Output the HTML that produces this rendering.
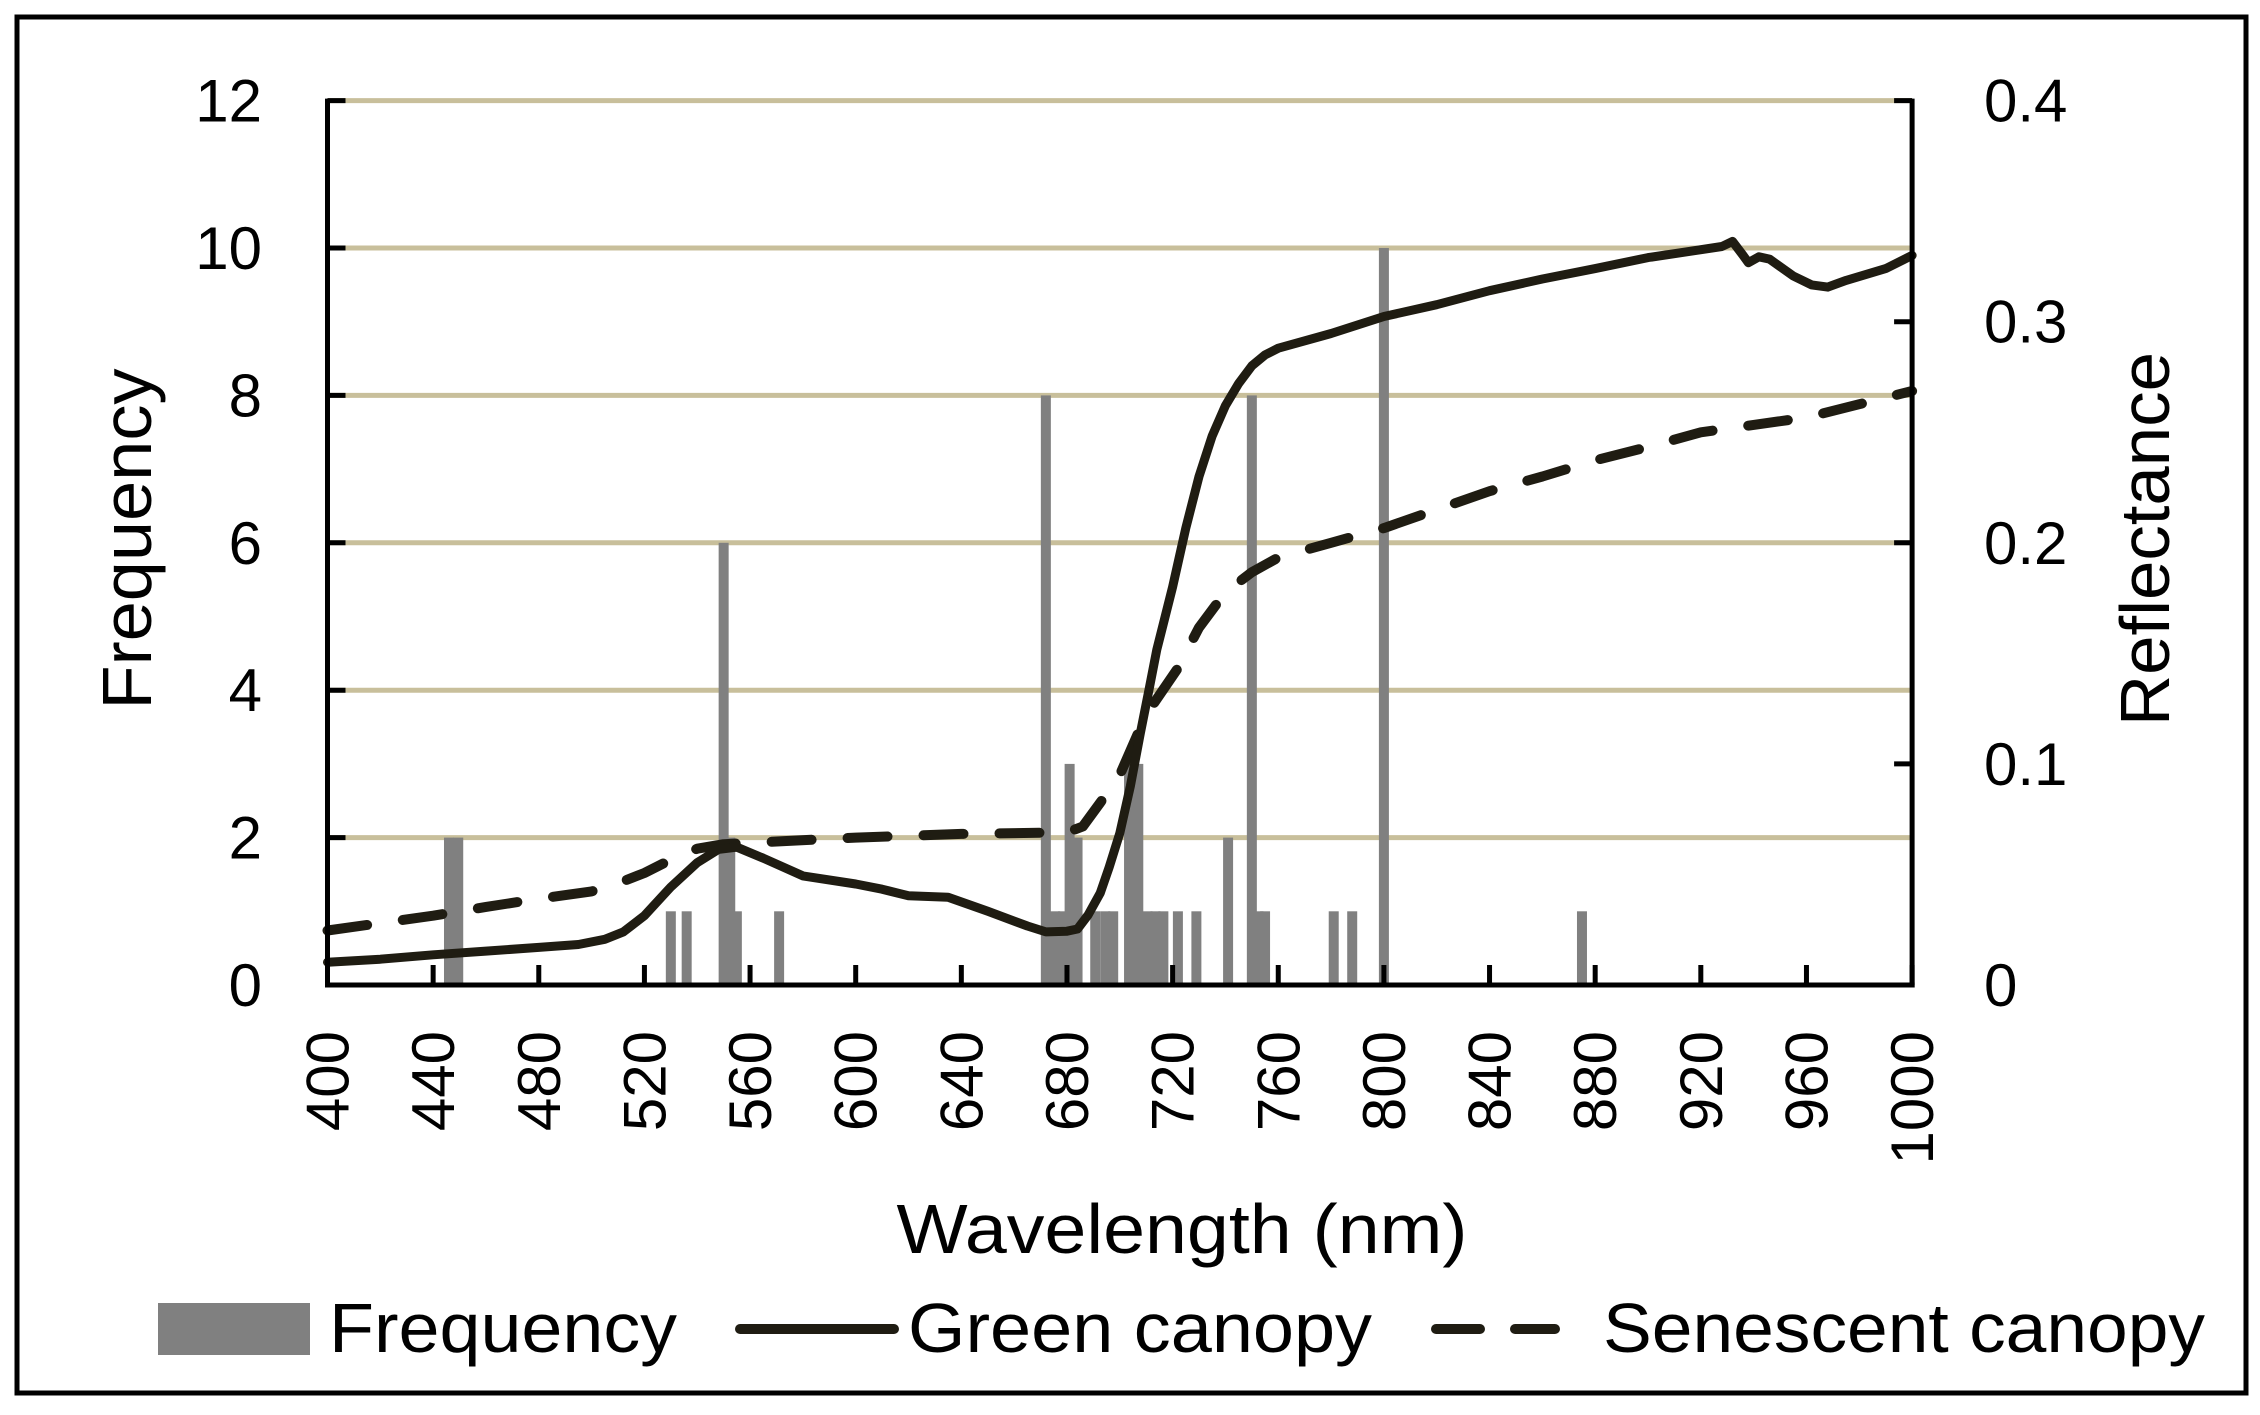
<!DOCTYPE html>
<html><head><meta charset="utf-8"><style>
html,body{margin:0;padding:0;background:#fff;}
svg{display:block;}
text{font-family:"Liberation Sans",sans-serif;fill:#000;}
</style></head><body>
<svg id="s" width="2260" height="1415" viewBox="0 0 2260 1415" xmlns="http://www.w3.org/2000/svg">
<rect x="0" y="0" width="2260" height="1415" fill="#fff"/>
<rect x="17" y="17" width="2229" height="1376" fill="none" stroke="#000" stroke-width="5"/>
<g id="grid"></g>
<g id="bars"></g>
<g id="lines"></g>
<g id="axes"></g>
<g id="labels" font-size="60"></g>
<text x="151" y="539" font-size="70" text-anchor="middle" transform="rotate(-90 151 539)" textLength="341" lengthAdjust="spacingAndGlyphs">Frequency</text>
<text x="2169" y="539" font-size="70" text-anchor="middle" transform="rotate(-90 2169 539)" textLength="374" lengthAdjust="spacingAndGlyphs">Reflectance</text>
<text x="1182" y="1253" font-size="70" text-anchor="middle" textLength="571" lengthAdjust="spacingAndGlyphs">Wavelength (nm)</text>
<rect x="158" y="1303" width="152" height="52" fill="#808080"/>
<text x="329" y="1352" font-size="70" textLength="348" lengthAdjust="spacingAndGlyphs">Frequency</text>
<line x1="740" y1="1329" x2="894" y2="1329" stroke="#1f1c12" stroke-width="10" stroke-linecap="round"/>
<text x="908" y="1352" font-size="70" textLength="464" lengthAdjust="spacingAndGlyphs">Green canopy</text>
<line x1="1436" y1="1329" x2="1480" y2="1329" stroke="#1f1c12" stroke-width="10" stroke-linecap="round"/>
<line x1="1515" y1="1329" x2="1555" y2="1329" stroke="#1f1c12" stroke-width="10" stroke-linecap="round"/>
<text x="1603" y="1352" font-size="70" textLength="602" lengthAdjust="spacingAndGlyphs">Senescent canopy</text>
</svg>
<script>
var NS="http://www.w3.org/2000/svg";
function X(n){return 327.5+(n-400)*2.641;}
function Y(v){return 985-v*73.7;}
function el(p,t,a,txt){var e=document.createElementNS(NS,t);for(var k in a)e.setAttribute(k,a[k]);if(txt!==undefined)e.textContent=txt;document.getElementById(p).appendChild(e);return e;}
for(var v=2;v<=12;v+=2){el("grid","line",{x1:X(400),x2:X(1000),y1:Y(v),y2:Y(v),stroke:"#c8bf9b","stroke-width":5});}
var bars=[[446,2],[449.5,2],[530,1],[536,1],[550,6],[552.5,2],[555,1],[571,1],[672,8],[675.5,1],[678.5,1],[681,3],[684,2],[690.7,1],[694.5,1],[697.5,1],[703.5,3],[707,3],[710.5,1],[713.5,1],[716.5,1],[722,1],[729,1],[741,2],[750,8],[752.5,1],[755,1],[781,1],[788,1],[800,10],[875,1]];
bars.forEach(function(b){var x=X(b[0]);el("bars","rect",{x:x-5,y:Y(b[1]),width:10,height:Y(0)-Y(b[1]),fill:"#808080"});});
var green=[[400,0.31],[420,0.35],[440,0.41],[460,0.46],[480,0.51],[495,0.55],[505,0.62],[512,0.72],[520,0.94],[530,1.33],[540,1.66],[548,1.84],[555,1.87],[565,1.72],[580,1.48],[600,1.37],[610,1.3],[620,1.21],[635,1.19],[650,1.0],[665,0.8],[672,0.72],[680,0.73],[684,0.76],[688,0.95],[692.6,1.25],[696,1.6],[700,2.06],[704,2.7],[707.8,3.42],[711,4.0],[714,4.55],[720,5.4],[725,6.2],[730,6.9],[735,7.45],[740,7.86],[745,8.16],[750,8.4],[755,8.55],[760,8.64],[780,8.84],[800,9.07],[820,9.23],[840,9.42],[860,9.58],[880,9.72],[900,9.87],[915,9.95],[928,10.02],[932,10.09],[936,9.9],[938,9.8],[942,9.88],[946,9.85],[955,9.62],[962,9.5],[968,9.47],[975,9.56],[990,9.72],[1000,9.9]];
var sen=[[400,0.74],[420,0.84],[440,0.94],[460,1.06],[480,1.17],[500,1.27],[510,1.38],[520,1.52],[530,1.7],[540,1.85],[550,1.91],[560,1.93],[600,2.0],[640,2.05],[680,2.07],[686,2.15],[692.5,2.47],[700,2.85],[710,3.67],[722,4.3],[730,4.85],[740,5.33],[750,5.6],[760,5.8],[780,6.0],[800,6.2],[820,6.45],[840,6.7],[860,6.9],[880,7.12],[900,7.3],[920,7.5],[940,7.6],[960,7.7],[980,7.88],[1000,8.06]];
function pts(a){return a.map(function(p){return X(p[0]).toFixed(1)+","+Y(p[1]).toFixed(1);}).join(" ");}
el("lines","polyline",{points:pts(sen),fill:"none",stroke:"#1f1c12","stroke-width":10,"stroke-dasharray":"40 36","stroke-linecap":"round","stroke-linejoin":"round"});
el("lines","polyline",{points:pts(green),fill:"none",stroke:"#1f1c12","stroke-width":9,"stroke-linejoin":"round","stroke-linecap":"round"});
// axes
el("axes","line",{x1:X(400),x2:X(400),y1:Y(12)-2,y2:Y(0)+2.5,stroke:"#000","stroke-width":5});
el("axes","line",{x1:X(1000),x2:X(1000),y1:Y(12)-2,y2:Y(0)+2.5,stroke:"#000","stroke-width":5});
el("axes","line",{x1:X(400)-2.5,x2:X(1000)+2.5,y1:Y(0),y2:Y(0),stroke:"#000","stroke-width":5});
for(var v=0;v<=12;v+=2){el("axes","line",{x1:X(400),x2:X(400)+18,y1:Y(v),y2:Y(v),stroke:"#000","stroke-width":5});
 el("labels","text",{x:262,y:Y(v)+21,"text-anchor":"end"},String(v));}
var r=["0","0.1","0.2","0.3","0.4"];
for(var i=0;i<=4;i++){var v=i*3;el("axes","line",{x1:X(1000)-18,x2:X(1000),y1:Y(v),y2:Y(v),stroke:"#000","stroke-width":5});
 el("labels","text",{x:1984,y:Y(v)+21},r[i]);}
for(var n=400;n<=1000;n+=40){var x=X(n);el("axes","line",{x1:x,x2:x,y1:Y(0),y2:Y(0)-20,stroke:"#000","stroke-width":5});
 var tx=x+21,ty=1031;el("labels","text",{x:tx,y:ty,"text-anchor":"end",transform:"rotate(-90 "+tx+" "+ty+")"},String(n));}
</script>
</body></html>
